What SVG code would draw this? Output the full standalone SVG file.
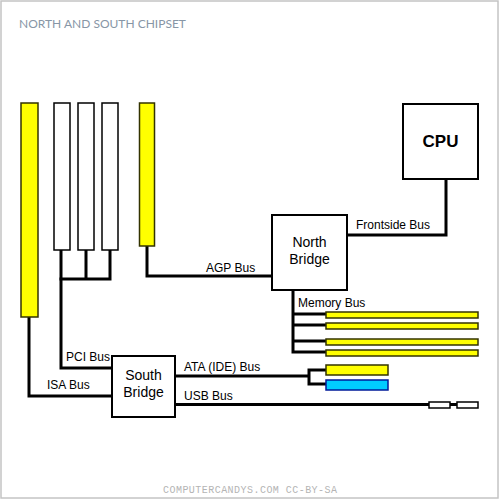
<svg xmlns="http://www.w3.org/2000/svg" width="500" height="500" viewBox="0 0 500 500">
<style>
.slotY{fill:#ffff00;stroke:#333300;stroke-width:1.5}
.slotW{fill:#ffffff;stroke:#000;stroke-width:1.5}
.slotB{fill:#00ccff;stroke:#001a99;stroke-width:1.5}
.box{fill:#fff;stroke:#000;stroke-width:2}
.bus{fill:none;stroke:#000;stroke-width:3;stroke-linejoin:miter;stroke-linecap:square}
.lbl{font-family:"Liberation Sans",Arial,sans-serif;font-size:12px;fill:#000}
.nl{font-family:"Liberation Sans",Arial,sans-serif;font-size:14px;fill:#000;text-anchor:middle}
</style>
<rect x="1" y="1" width="497" height="497" fill="#fff" stroke="#c4c4c4" stroke-width="1.5"/>
<text x="19" y="27.5" font-family="Lato,'Open Sans',sans-serif" font-size="12" fill="#8796a6">NORTH AND SOUTH CHIPSET</text>

<g id="connectors">
<path class="bus" d="M29,317 V396 H112"/>
<path class="bus" d="M61,250 V368 H112"/>
<path class="bus" d="M61,279 H110 M86,250 V279 M110,250 V279"/>
<path class="bus" d="M147,246 V276 H272"/>
<path class="bus" d="M347,235 H446 V179"/>
<path class="bus" d="M293,290 V352 H326 M293,314 H326 M293,325 H326 M293,341 H326"/>
<path class="bus" d="M175,376 H309 M309,370 V384 M309,370 H326 M309,384 H326"/>
<path class="bus" d="M175,404.5 H429"/>
<path class="bus" d="M450,404.5 H457"/>
</g>

<g id="isa-slot"><rect class="slotY" x="21" y="103" width="17" height="214"/></g>
<g id="pci-slot-1"><rect class="slotW" x="54" y="103" width="16" height="147"/></g>
<g id="pci-slot-2"><rect class="slotW" x="78" y="103" width="16" height="147"/></g>
<g id="pci-slot-3"><rect class="slotW" x="102" y="103" width="16" height="147"/></g>
<g id="agp-slot"><rect class="slotY" x="139.5" y="103" width="15" height="143"/></g>

<g id="cpu"><rect class="box" x="403" y="104" width="75" height="75"/>
<text x="440.5" y="147" font-family="'Liberation Sans',Arial,sans-serif" font-size="17" font-weight="bold" text-anchor="middle">CPU</text></g>

<g id="north-bridge"><rect class="box" x="272" y="215" width="75" height="75"/>
<text class="nl" x="309.5" y="247">North</text>
<text class="nl" x="309.5" y="264">Bridge</text></g>

<g id="south-bridge"><rect class="box" x="112" y="356" width="63" height="61"/>
<text class="nl" x="143.5" y="380">South</text>
<text class="nl" x="143.5" y="397">Bridge</text></g>

<g id="memory-slots">
<rect class="slotY" x="326" y="312" width="152" height="6"/>
<rect class="slotY" x="326" y="323" width="152" height="6"/>
<rect class="slotY" x="326" y="339" width="152" height="6"/>
<rect class="slotY" x="326" y="350" width="152" height="6"/>
</g>
<g id="ata-slots">
<rect class="slotY" x="326" y="365" width="62" height="10"/>
<rect class="slotB" x="326" y="380" width="62" height="10"/>
</g>
<g id="usb-ports">
<rect class="slotW" x="429" y="402" width="21" height="6"/>
<rect class="slotW" x="457" y="402" width="21" height="6"/>
</g>

<g id="labels">
<text class="lbl" x="356" y="229">Frontside Bus</text>
<text class="lbl" x="206" y="272">AGP Bus</text>
<text class="lbl" x="298" y="307">Memory Bus</text>
<text class="lbl" x="66" y="361">PCI Bus</text>
<text class="lbl" x="47" y="389">ISA Bus</text>
<text class="lbl" x="184" y="371">ATA (IDE) Bus</text>
<text class="lbl" x="184" y="400">USB Bus</text>
</g>

<text x="163" y="493" font-family="'Liberation Mono','DejaVu Sans Mono',monospace" font-size="10" fill="#b4b4b4" textLength="174" lengthAdjust="spacing">COMPUTERCANDYS.COM CC-BY-SA</text>
</svg>
